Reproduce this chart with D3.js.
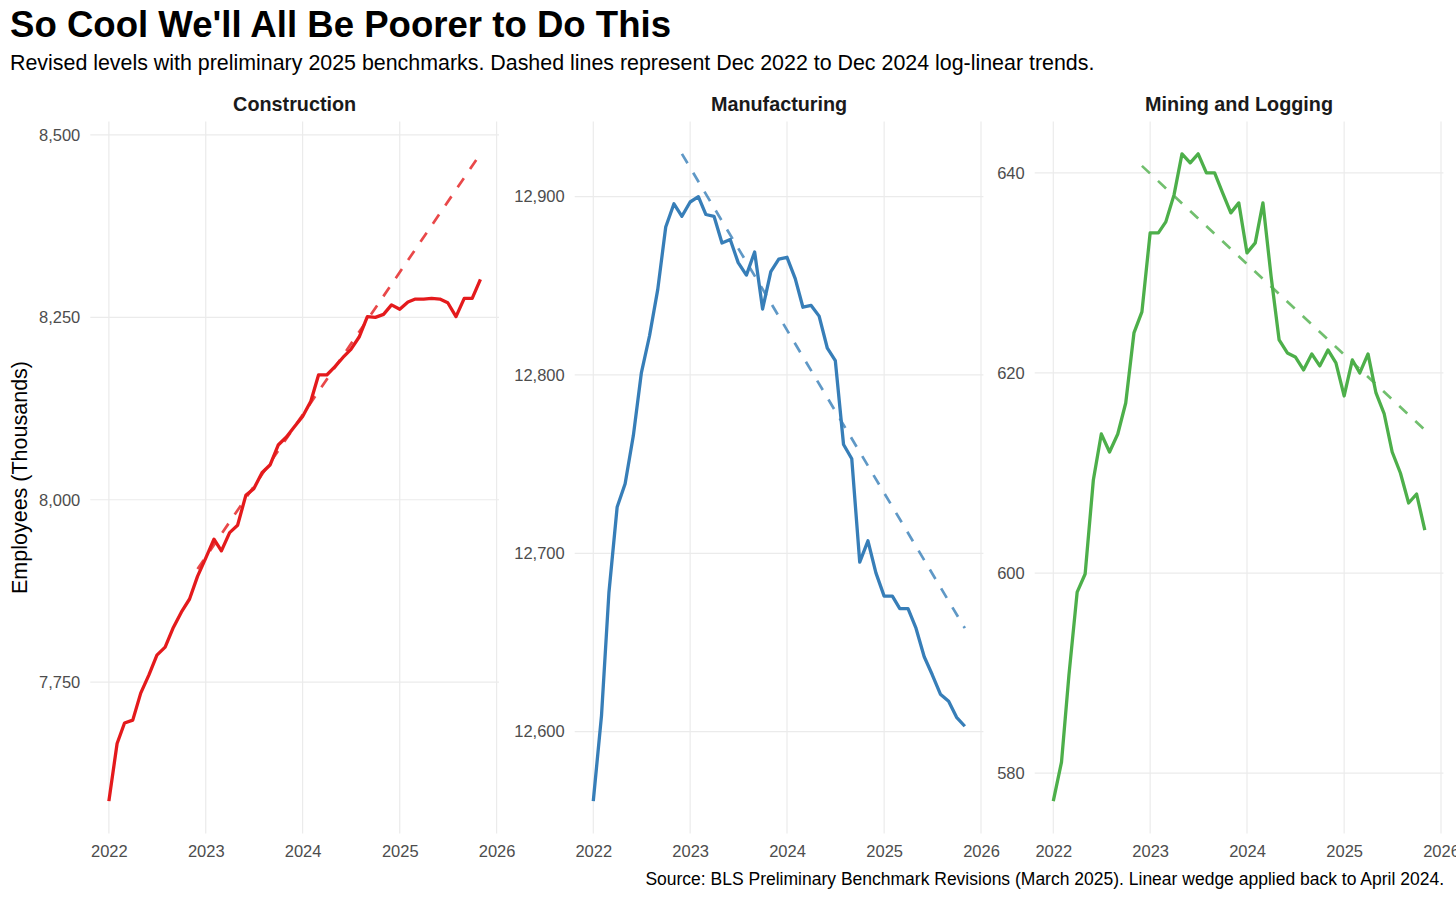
<!DOCTYPE html>
<html>
<head>
<meta charset="utf-8">
<script src="https://cdn.jsdelivr.net/npm/d3@7"></script>
<style>
  body { margin: 0; background: #fff; }
  svg { font-family: "Liberation Sans", Arial, Helvetica, sans-serif; }
</style>
</head>
<body>
<svg id="chart" width="1456" height="900"></svg>
<script>
// monthly, Jan 2022 .. Nov 2025
const months = d3.timeMonth.range(new Date(2022, 0, 1), new Date(2025, 11, 1));

const construction = [
  7587, 7666, 7694, 7698, 7735, 7760, 7787, 7798, 7825, 7846, 7864, 7895,
  7920, 7946, 7930, 7955, 7965, 8006, 8015, 8037, 8048, 8075, 8086, 8100,
  8114, 8135, 8171, 8171, 8182, 8195, 8206, 8223, 8251, 8250, 8254, 8267,
  8261, 8271, 8275, 8275, 8276, 8275, 8270, 8251, 8276, 8276, 8302
];
const manufacturing = [
  12561, 12609, 12678, 12726, 12739, 12766, 12801, 12822, 12848, 12883, 12896, 12889,
  12897, 12900, 12890, 12889, 12874, 12876, 12863, 12856, 12869, 12837, 12858, 12865,
  12866, 12854, 12838, 12839, 12833, 12815, 12808, 12761, 12753, 12695, 12707, 12689,
  12676, 12676, 12669, 12669, 12658, 12642, 12632, 12621, 12617, 12608, 12603
];
const mining = [
  577.2, 581.1, 589.8, 598.1, 599.9, 609.3, 613.9, 612.1, 613.9, 617.0, 624.0, 626.1,
  634.0, 634.0, 635.1, 637.8, 641.9, 641.0, 641.9, 640.0, 640.0, 638.0, 636.0, 637.0,
  632.0, 633.0, 637.0, 629.6, 623.3, 622.0, 621.6, 620.3, 621.9, 620.7, 622.3, 621.0,
  617.7, 621.3, 620.0, 621.9, 618.0, 615.9, 612.1, 610.0, 607.0, 607.9, 604.3
];

// Dec 2022 -> Dec 2024 log-linear trend, drawn Dec 2022 .. Nov 2025
const trendDates = [new Date(2022, 11, 1), new Date(2025, 10, 1)];
const constructionTrend = [7905, 8474];
const manufacturingTrend = [12924, 12658];
const miningTrend = [640.7, 614.3];

const yearTicks = [2022, 2023, 2024, 2025, 2026];
const constructionTicks = [7750, 8000, 8250, 8500];
const manufacturingTicks = [12600, 12700, 12800, 12900];
const miningTicks = [580, 600, 620, 640];

const panels = [
  { name: 'Construction', values: construction, trend: constructionTrend, ticks: constructionTicks, color: '#E41A1C', left: 90.3 },
  { name: 'Manufacturing', values: manufacturing, trend: manufacturingTrend, ticks: manufacturingTicks, color: '#377EB8', left: 574.7 },
  { name: 'Mining and Logging', values: mining, trend: miningTrend, ticks: miningTicks, color: '#4DAF4A', left: 1034.7 }
];

const panelTop = 121.5;
const panelH = 712;
const panelW = 408.7;
const gridColor = '#EBEBEB';

const svg = d3.select('#chart');

const pad = (lo, hi) => {
  const d = (hi - lo) * 0.05;
  return [lo - d, hi + d];
};

const xExtent = d3.extent(months.concat(trendDates), d => +d);

const drawPanel = p => {
  const g = svg.append('g').attr('transform', `translate(${p.left},${panelTop})`);

  const x = d3.scaleTime()
    .domain(pad(xExtent[0], xExtent[1]))
    .range([0, panelW]);

  const yExt = d3.extent(p.values.concat(p.trend));
  const y = d3.scaleLinear()
    .domain(pad(yExt[0], yExt[1]))
    .range([panelH, 0]);

  // grid
  g.selectAll('.hgrid')
    .data(p.ticks)
    .enter()
    .append('line')
    .attr('x1', 0)
    .attr('x2', panelW)
    .attr('y1', d => y(d))
    .attr('y2', d => y(d))
    .attr('stroke', gridColor)
    .attr('stroke-width', 1.2);

  const yearDates = yearTicks.map(yr => new Date(yr, 0, 1));
  g.selectAll('.vgrid')
    .data(yearDates)
    .enter()
    .append('line')
    .attr('x1', d => x(d))
    .attr('x2', d => x(d))
    .attr('y1', 0)
    .attr('y2', panelH)
    .attr('stroke', gridColor)
    .attr('stroke-width', 1.2);

  // axes (labels only)
  const yAxis = d3.axisLeft(y)
    .tickValues(p.ticks)
    .tickFormat(d3.format(','))
    .tickSize(0)
    .tickPadding(10);
  const ya = g.append('g').call(yAxis);
  ya.select('.domain').remove();
  ya.selectAll('text')
    .attr('fill', '#4D4D4D')
    .style('font-size', '16.5px');

  const xAxis = d3.axisBottom(x)
    .tickValues(yearDates)
    .tickFormat(d3.timeFormat('%Y'))
    .tickSize(0)
    .tickPadding(12);
  const xa = g.append('g').attr('transform', `translate(0,${panelH})`).call(xAxis);
  xa.select('.domain').remove();
  xa.selectAll('text')
    .attr('fill', '#4D4D4D')
    .style('font-size', '16.5px');

  // trend
  const trendPts = trendDates.map((d, i) => [d, p.trend[i]]);
  g.append('path')
    .attr('d', d3.line().x(d => x(d[0])).y(d => y(d[1]))(trendPts))
    .attr('fill', 'none')
    .attr('stroke', p.color)
    .attr('stroke-opacity', 0.8)
    .attr('stroke-width', 2.7)
    .attr('stroke-dasharray', '11,11');

  // series
  const pts = months.map((d, i) => [d, p.values[i]]);
  g.append('path')
    .attr('d', d3.line().x(d => x(d[0])).y(d => y(d[1]))(pts))
    .attr('fill', 'none')
    .attr('stroke', p.color)
    .attr('stroke-width', 3.3)
    .attr('stroke-linejoin', 'round');

  // strip label
  g.append('text')
    .attr('x', panelW / 2)
    .attr('y', -11)
    .attr('text-anchor', 'middle')
    .style('font-size', '19.8px')
    .style('font-weight', 'bold')
    .attr('fill', '#1A1A1A')
    .text(p.name);
};

panels.forEach(drawPanel);

svg.append('text')
  .attr('x', 10)
  .attr('y', 37)
  .style('font-size', '36.6px')
  .style('font-weight', 'bold')
  .attr('fill', '#000')
  .text("So Cool We'll All Be Poorer to Do This");

svg.append('text')
  .attr('x', 10)
  .attr('y', 70)
  .style('font-size', '21.4px')
  .attr('fill', '#000')
  .text('Revised levels with preliminary 2025 benchmarks. Dashed lines represent Dec 2022 to Dec 2024 log-linear trends.');

svg.append('text')
  .attr('transform', `translate(27,${panelTop + panelH / 2}) rotate(-90)`)
  .attr('text-anchor', 'middle')
  .style('font-size', '21.5px')
  .attr('fill', '#000')
  .text('Employees (Thousands)');

svg.append('text')
  .attr('x', 1444)
  .attr('y', 885)
  .attr('text-anchor', 'end')
  .style('font-size', '17.5px')
  .attr('fill', '#000')
  .text('Source: BLS Preliminary Benchmark Revisions (March 2025). Linear wedge applied back to April 2024.');
</script>
</body>
</html>
